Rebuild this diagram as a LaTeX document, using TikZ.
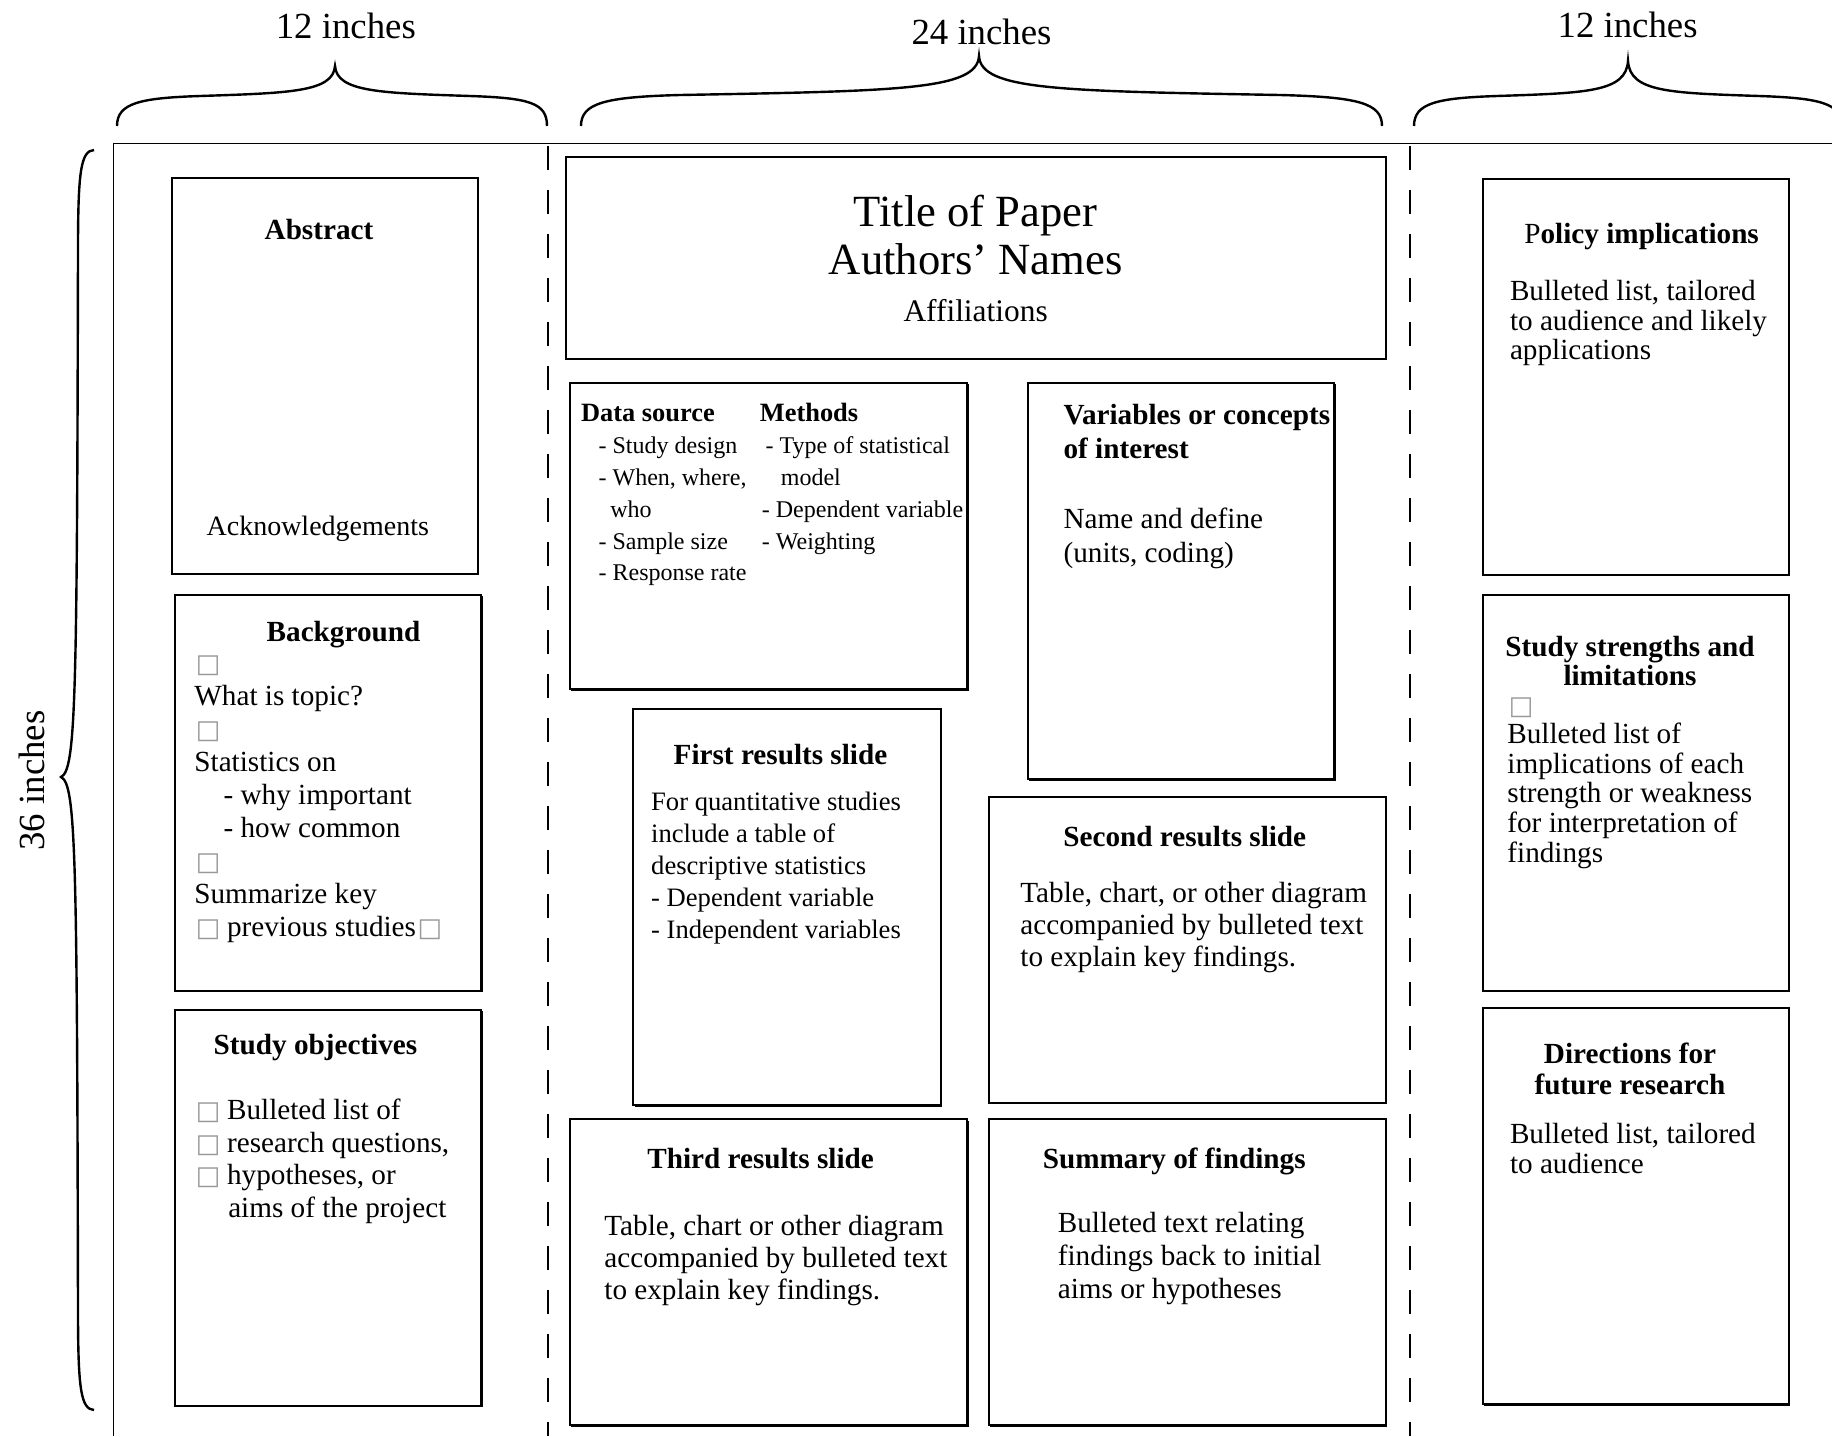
\documentclass[tikz,border=0pt]{standalone}
\usepackage{fontspec}
\setmainfont{Liberation Serif}
\newfontfamily\symfont{DejaVu Sans}
\usetikzlibrary{shadows}

\newcommand{\setfs}[2]{\fontsize{#1}{#2}\selectfont}
\newcommand{\leftlines}[1]{\begin{tabular}[t]{@{}l@{}}#1\end{tabular}}
\newcommand{\midlines}[1]{\begin{tabular}[t]{@{}c@{}}#1\end{tabular}}
\newcommand{\nobullet}{\makebox[1.12em][l]{\hspace{0.05em}{\symfont\fontsize{13}{13}\selectfont\color{black!40}□}}}

\begin{document}
\begin{tikzpicture}[x=0.5pt, y=-0.5pt,
  brace/.style={line width=1.2pt},
  frame/.style={line width=0.7pt},
  cut/.style={line width=1pt, dash pattern=on 12pt off 10pt},
  slide/.style={line width=1pt, fill=white,
    drop shadow={shadow xshift=0.6pt, shadow yshift=-0.6pt, opacity=1, fill=black}},
  dim/.style={font=\setfs{18.4}{20}, inner sep=0},
  hd/.style={font=\bfseries\setfs{14.6}{16}, anchor=base, inner sep=0},
  bd/.style={font=\setfs{14.6}{16}, anchor=base west, inner sep=0}]
  \useasboundingbox (0,0) rectangle (1832,1436);

  % sizes of the poster
  \draw[brace] (117,126) .. controls (117,103) and (140,98) .. (200,96)
    .. controls (290,93) and (333,92) .. (335,66)
    .. controls (337,92) and (380,93) .. (470,96)
    .. controls (530,98) and (547,103) .. (547,126);
  \draw[brace] (581,126) .. controls (581,103) and (605,97) .. (680,95)
    .. controls (900,91) and (977,90) .. (979,56)
    .. controls (981,90) and (1058,91) .. (1280,95)
    .. controls (1358,97) and (1382,103) .. (1382,126);
  \draw[brace] (1414,126) .. controls (1414,103) and (1437,98) .. (1497,96)
    .. controls (1587,93) and (1626,92) .. (1628,61)
    .. controls (1630,92) and (1669,93) .. (1759,96)
    .. controls (1819,98) and (1842,103) .. (1842,126);
  \draw[brace] (94,150) .. controls (81,151) and (78,170) .. (78,250)
    .. controls (77,700) and (76,770) .. (61,777)
    .. controls (76,784) and (77,854) .. (78,1310)
    .. controls (78,1390) and (81,1409) .. (94,1410);
  \node[dim] (wleft) at (345.8,25.7) {12 inches};
  \node[dim] (wmid) at (981.5,31.5) {24 inches};
  \node[dim] (wright) at (1627.6,24.5) {12 inches};
  \node[dim, rotate=90] (height) at (31.5,780.5) {36 inches};

  % poster edge and column folds
  \draw[frame] (1832,143.7) -- (113.3,143.7) -- (113.3,1436);
  \draw[cut] (548,146) -- (548,1436);
  \draw[cut] (1410.3,146) -- (1410.3,1436);

  % left column
  \draw[slide] (171.8,177.6) rectangle (477.9,573.7);
  \draw[slide] (175.3,594.7) rectangle (481.4,990.8);
  \draw[slide] (175.3,1009.5) rectangle (481.4,1405.6);
  \node[hd] (abshd) at (319,239.5) {Abstract};
  \node[bd, anchor=base, font=\setfs{14}{16}] (ack) at (317.8,535) {Acknowledgements};
  \node[hd] (bghd) at (343.5,641.5) {Background};
  \node[bd] (bgtxt) at (194,672.7) {\setfs{14.6}{16.5}\leftlines{\nobullet\\What is topic?\\\nobullet\\Statistics on\\
    \hspace*{1em}- why important\\\hspace*{1em}- how common\\\nobullet\\Summarize key\\\nobullet previous studies\nobullet}};
  \node[hd] (objhd) at (315.5,1054) {Study objectives};
  \node[bd] (objtxt) at (194,1119.3) {\setfs{14.6}{16.35}\leftlines{\nobullet Bulleted list of\\\nobullet research questions,\\
    \nobullet hypotheses, or\\\hspace*{1.16em}aims of the project}};

  % middle column
  \draw[slide] (565.5,156.6) rectangle (1385.7,358.7);
  \draw[slide] (570.2,383.2) rectangle (967.4,689.4);
  \draw[slide] (1028.2,383.2) rectangle (1334.3,779.3);
  \draw[slide] (633.3,709.2) rectangle (940.6,1105.3);
  \draw[slide] (988.5,796.8) rectangle (1385.7,1103);
  \draw[slide] (570.2,1119.3) rectangle (967.4,1425.4);
  \draw[slide] (988.5,1119.3) rectangle (1385.7,1425.4);
  \node[bd, anchor=base, font=\setfs{22.3}{24}] (title) at (975.6,226) {\midlines{Title of Paper\\Authors’ Names}};
  \node[bd, anchor=base, font=\setfs{15.7}{18}] (affil) at (975.6,321) {Affiliations};
  \node[bd] (datatxt) at (580.7,421.8) {\setfs{12}{15.9}\leftlines{\textbf{\setfs{13.2}{15.9}Data source}\\
    \hspace*{8.75pt}- Study design\\\hspace*{8.75pt}- When, where,\\\hspace*{14.6pt}who\\
    \hspace*{8.75pt}- Sample size\\\hspace*{8.75pt}- Response rate}};
  \node[bd] (methtxt) at (759.5,421.8) {\setfs{12}{15.9}\leftlines{\textbf{\setfs{13.2}{15.9}Methods}\\
    \hspace*{2.9pt}- Type of statistical\\\hspace*{10.5pt}model\\\hspace*{1pt}- Dependent variable\\\hspace*{1pt}- Weighting}};
  \node[bd] (varhd) at (1063.2,424) {\bfseries\setfs{14.6}{17}\leftlines{Variables or concepts\\of interest}};
  \node[bd] (vartxt) at (1063.2,528) {\setfs{14.6}{17}\leftlines{Name and define\\(units, coding)}};
  \node[hd] (res1hd) at (780.5,764) {First results slide};
  \node[bd] (res1txt) at (650.8,810.9) {\setfs{13.3}{16}\leftlines{For quantitative studies\\include a table of\\
    descriptive statistics\\- Dependent variable\\- Independent variables}};
  \node[hd] (res2hd) at (1184.8,846) {Second results slide};
  \node[bd] (res2txt) at (1020,902) {\setfs{14.6}{16}\leftlines{Table, chart, or other diagram\\
    accompanied by bulleted text\\to explain key findings.}};
  \node[hd] (res3hd) at (760.6,1168.4) {Third results slide};
  \node[bd] (res3txt) at (604,1235) {\setfs{14.6}{16}\leftlines{Table, chart or other diagram\\
    accompanied by bulleted text\\to explain key findings.}};
  \node[hd] (sumhd) at (1174.2,1168.4) {Summary of findings};
  \node[bd] (sumtxt) at (1057.4,1232.6) {\setfs{14.6}{16.5}\leftlines{Bulleted text relating\\
    findings back to initial\\aims or hypotheses}};

  % right column
  \draw[slide] (1482.7,178.8) rectangle (1788.8,574.9);
  \draw[slide] (1482.7,594.7) rectangle (1788.8,990.8);
  \draw[slide] (1482.7,1008.3) rectangle (1788.8,1404.4);
  \node[hd] (polhd) at (1641.6,243) {\textmd{P}olicy implications};
  \node[bd] (poltxt) at (1509.6,300.3) {\setfs{14.6}{14.9}\leftlines{Bulleted list, tailored\\
    to audience and likely\\applications}};
  \node[hd] (limhd) at (1630,656.6) {\setfs{14.6}{14}\midlines{Study strengths and\\limitations}};
  \node[bd] (limtxt) at (1507,714) {\setfs{14.6}{14.8}\leftlines{\nobullet\\Bulleted list of\\implications of each\\
    strength or weakness\\for interpretation of\\findings}};
  \node[hd] (dirhd) at (1630,1063.2) {\setfs{14.6}{15.8}\midlines{Directions for\\future research}};
  \node[bd] (dirtxt) at (1509.6,1143.9) {\setfs{14.6}{14.6}\leftlines{Bulleted list, tailored\\to audience}};
\end{tikzpicture}
\end{document}
